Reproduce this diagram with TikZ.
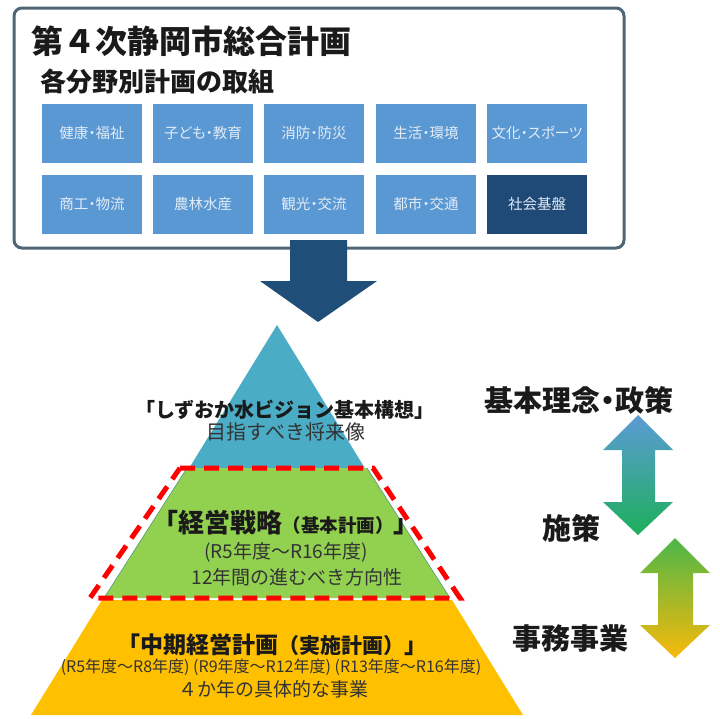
\documentclass[tikz,border=0pt]{standalone}
\usepackage{fontspec}
\setmainfont{Noto Sans CJK JP}
\definecolor{boxline}{HTML}{4E6675}
\definecolor{tileblue}{HTML}{5A98D3}
\definecolor{tiledark}{HTML}{1F4A78}
\definecolor{tiletext}{HTML}{E2ECF6}
\definecolor{arrowdark}{HTML}{1F4E79}
\definecolor{pyblue}{HTML}{4BACC6}
\definecolor{pygreen}{HTML}{92D050}
\definecolor{pyedge}{HTML}{4E9A7A}
\definecolor{pyyellow}{HTML}{FFC000}
\definecolor{txtdark}{HTML}{1A1A1A}
\definecolor{txtgray}{HTML}{333333}
\definecolor{dred}{HTML}{FF0000}
\definecolor{aone}{HTML}{5B9BD5}
\definecolor{atwo}{HTML}{1DAF5C}
\definecolor{athree}{HTML}{4CB748}
\definecolor{afour}{HTML}{F9B90A}
\tikzset{
  tile/.style={fill=tileblue, minimum width=100pt, minimum height=59pt, inner sep=0pt,
    text=tiletext, font=\fontsize{14.5}{16}\selectfont\addfontfeature{RawFeature=+palt}},
  tiledk/.style={tile, fill=tiledark},
  lbl/.style={inner sep=0pt, anchor=center},
}
\begin{document}
\begin{tikzpicture}[x=1pt,y=-1pt]
\useasboundingbox (0,0) rectangle (720,718);
\fill[white] (0,0) rectangle (720,718);
% top box
\draw[boxline, line width=3pt, rounded corners=8pt, fill=white] (14,8) rectangle (624,248);
\node[lbl, anchor=west, text=txtdark, font=\fontsize{32}{35}\selectfont\bfseries] (title) at (31,41) {第４次静岡市総合計画};
\node[lbl, anchor=west, text=txtdark, font=\fontsize{26}{29}\selectfont\bfseries] (sub) at (40,82) {各分野別計画の取組};
% tiles
\node[tile] (t1) at (92,133) {健康・福祉};
\node[tile] (t2) at (203,133) {子ども・教育};
\node[tile] (t3) at (314,133) {消防・防災};
\node[tile] (t4) at (426,133) {生活・環境};
\node[tile] (t5) at (537,133) {文化・スポーツ};
\node[tile] (t6) at (92,204) {商工・物流};
\node[tile] (t7) at (203,204) {農林水産};
\node[tile] (t8) at (314,204) {観光・交流};
\node[tile] (t9) at (426,204) {都市・交通};
\node[tiledk] (t10) at (537,204) {社会基盤};
% down arrow
\fill[arrowdark] (290,240) -- (347,240) -- (347,281) -- (377,281) -- (318,322) -- (260,281) -- (290,281) -- cycle;
% pyramid
\fill[pyblue] (277,325) -- (188,470) -- (366,470) -- cycle;
\fill[pygreen] (187,468) -- (367,468) -- (450,598) -- (104,598) -- cycle;
\draw[pyedge, line width=0.6pt] (187,468) -- (104,598) (367,468) -- (450,598);
\fill[pyyellow] (102,600) -- (452,600) -- (523,715) -- (31,715) -- cycle;
% red dashed outline
\draw[dred, line width=5pt, dash pattern=on 15pt off 9pt] (180,468) -- (373,468) -- (460,598) -- (90,598) -- cycle;
% pyramid texts
\node[lbl, text=txtdark, font=\fontsize{20}{22}\selectfont\bfseries] (vis) at (285,410) {「しずおか水ビジョン基本構想」};
\node[lbl, text=txtgray, font=\fontsize{20}{22}\selectfont] (visb) at (286,432) {目指すべき将来像};
\node[lbl, text=txtdark, font=\fontsize{26}{28}\selectfont\bfseries] (strat) at (286,523) {「経営戦略{\fontsize{18.5}{20}\selectfont （基本計画）}」};
\node[lbl, text=txtgray, font=\fontsize{19}{21}\selectfont] (strata) at (286,552) {(R5年度～R16年度)};
\node[lbl, text=txtgray, font=\fontsize{19}{21}\selectfont] (stratb) at (297,577) {12年間の進むべき方向性};
\node[lbl, text=txtdark, font=\fontsize{23}{25}\selectfont\bfseries] (mid) at (272,645) {「中期経営計画{\fontsize{21}{23}\selectfont （実施計画）}」};
\node[lbl, text=txtgray, font=\fontsize{16}{18}\selectfont] (mida) at (271,667) {(R5年度～R8年度) (R9年度～R12年度) (R13年度～R16年度)};
\node[lbl, text=txtgray, font=\fontsize{19}{21}\selectfont] (midb) at (273,689) {４か年の具体的な事業};
% right labels
\node[lbl, text=txtdark, font=\fontsize{29}{31}\selectfont\bfseries\addfontfeature{RawFeature=+palt}] (pol) at (579,400) {基本理念・政策};
\node[lbl, text=txtdark, font=\fontsize{29}{31}\selectfont\bfseries] (mea) at (571,528) {施策};
\node[lbl, text=txtdark, font=\fontsize{29}{31}\selectfont\bfseries] (bus) at (570,638) {事務事業};
% double arrows
\shade[top color=aone, bottom color=atwo] (638,415) -- (673,450) -- (655,450) -- (655,502) -- (673,502) -- (638,535) -- (603,502) -- (622,502) -- (622,450) -- (603,450) -- cycle;
\shade[top color=athree, bottom color=afour] (675,538) -- (710,573) -- (693,573) -- (693,625) -- (710,625) -- (675,658) -- (640,625) -- (658,625) -- (658,573) -- (640,573) -- cycle;
\end{tikzpicture}
\end{document}
